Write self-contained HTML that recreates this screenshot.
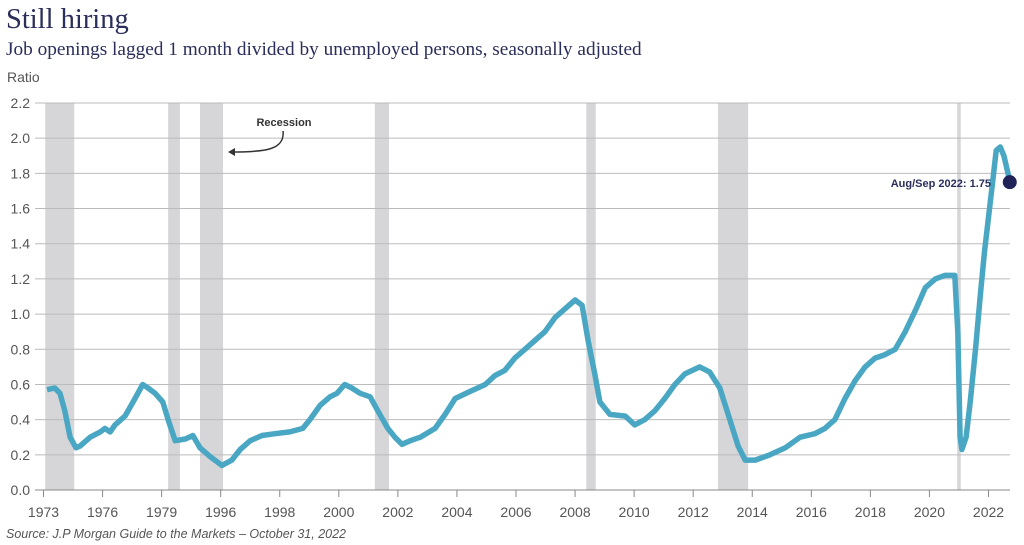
<!DOCTYPE html>
<html><head><meta charset="utf-8"><style>
body{margin:0;background:#fff;width:1024px;height:545px;overflow:hidden}
svg{display:block}
</style></head><body>
<svg width="1024" height="545" font-family="Liberation Sans, sans-serif">
<text x="6" y="28" font-family="Liberation Serif, serif" font-size="28.5" fill="#2b2d5a">Still hiring</text>
<text x="6" y="55" font-family="Liberation Serif, serif" font-size="19.3" fill="#2b2d5a">Job openings lagged 1 month divided by unemployed persons, seasonally adjusted</text>
<text x="7" y="82" font-size="14" fill="#555">Ratio</text>
<g id="rec"></g>
<g id="grid"></g>
<g id="xax"></g>
<g id="series"></g>
<text x="284" y="126" font-size="11" font-weight="bold" fill="#333" text-anchor="middle">Recession</text>
<path d="M283,131 C285,150 265,152 232,152" fill="none" stroke="#333" stroke-width="1.5"/>
<path d="M228,152 L235,148 L235,156 Z" fill="#333"/>
<text x="991" y="187" font-size="11" font-weight="bold" fill="#2b2d5a" text-anchor="end">Aug/Sep 2022: 1.75</text>
<text x="6" y="538" font-size="12.5" font-style="italic" fill="#555">Source: J.P Morgan Guide to the Markets – October 31, 2022</text>
</svg>
<script>
const tickLabels=["1973","1976","1979","1996","1998","2000","2002","2004","2006","2008","2010","2012","2014","2016","2018","2020","2022"];
const yTicks=[0,0.2,0.4,0.6,0.8,1.0,1.2,1.4,1.6,1.8,2.0,2.2];
const recStart=[0.03,2.11,2.65,5.61,9.19,11.42,15.47];
const recEnd=[0.52,2.31,3.04,5.85,9.35,11.93,15.53];
const seriesT=[0.06,0.19,0.28,0.36,0.45,0.55,0.62,0.79,0.96,1.04,1.13,1.21,1.38,1.55,1.68,1.77,1.89,2.02,2.11,2.23,2.40,2.53,2.65,2.82,3.02,3.19,3.33,3.50,3.70,3.92,4.17,4.39,4.51,4.68,4.85,4.97,5.10,5.22,5.36,5.53,5.66,5.83,5.95,6.07,6.21,6.38,6.63,6.80,6.97,7.22,7.48,7.64,7.81,7.98,8.15,8.32,8.49,8.66,8.83,9.00,9.12,9.22,9.34,9.42,9.59,9.85,10.01,10.18,10.35,10.52,10.69,10.86,11.11,11.28,11.45,11.62,11.76,11.88,12.05,12.30,12.56,12.81,13.06,13.23,13.40,13.57,13.74,13.91,14.08,14.25,14.42,14.59,14.76,14.93,15.10,15.26,15.43,15.48,15.52,15.55,15.62,15.69,15.78,15.86,15.93,16.00,16.07,16.13,16.20,16.26,16.33,16.36];
const seriesV=[0.57,0.58,0.55,0.45,0.30,0.24,0.25,0.30,0.33,0.35,0.33,0.37,0.42,0.52,0.60,0.58,0.55,0.50,0.40,0.28,0.29,0.31,0.24,0.19,0.14,0.17,0.23,0.28,0.31,0.32,0.33,0.35,0.40,0.48,0.53,0.55,0.60,0.58,0.55,0.53,0.45,0.35,0.30,0.26,0.28,0.30,0.35,0.43,0.52,0.56,0.60,0.65,0.68,0.75,0.80,0.85,0.90,0.98,1.03,1.08,1.05,0.85,0.65,0.50,0.43,0.42,0.37,0.40,0.45,0.52,0.60,0.66,0.70,0.67,0.58,0.40,0.25,0.17,0.17,0.20,0.24,0.30,0.32,0.35,0.40,0.52,0.62,0.70,0.75,0.77,0.80,0.90,1.02,1.15,1.20,1.22,1.22,0.90,0.30,0.23,0.30,0.50,0.80,1.10,1.35,1.55,1.75,1.93,1.95,1.90,1.80,1.75];
const lastValue=1.75;
const NS="http://www.w3.org/2000/svg";
const X0=43.5,X1=988.5,Y0=490,Y1=103;
function xs(t){return X0+t*(X1-X0)/16;}
function ys(v){return Y0-(v/2.2)*(Y0-Y1);}
function mk(tag,attrs,parent){const e=document.createElementNS(NS,tag);for(const k in attrs)e.setAttribute(k,attrs[k]);parent.appendChild(e);return e;}
const rec=document.getElementById('rec');
recStart.forEach((s,i)=>{const r=mk('rect',{x:xs(s),y:Y1,width:xs(recEnd[i])-xs(s),height:Y0-Y1,fill:'#d6d6d9'},rec);

});
const grid=document.getElementById('grid');
yTicks.forEach(v=>{const l=mk('line',{x1:35,x2:1010,y1:ys(v),y2:ys(v),stroke:v===0?'#888':'#bbb','stroke-width':1},grid);


const t=mk('text',{x:30,y:ys(v)+5,'font-size':14,fill:'#555','text-anchor':'end'},grid);t.textContent=v.toFixed(1);

});
const xax=document.getElementById('xax');
tickLabels.forEach((lab,i)=>{const x=xs(i);const l=mk('line',{x1:x,x2:x,y1:Y0,y2:Y0+7,stroke:'#888'},xax);


const t=mk('text',{x:x,y:517,'font-size':14,fill:'#555','text-anchor':'middle'},xax);t.textContent=lab;

});
const ser=document.getElementById('series');
const d=seriesT.map((t,i)=>(i?'L':'M')+xs(t).toFixed(1)+','+ys(seriesV[i]).toFixed(1)).join(' ');
const p=mk('path',{d:d,fill:'none',stroke:'#4aa7c4','stroke-width':5.5,'stroke-linejoin':'round'},ser);


const c=mk('circle',{cx:xs(seriesT[seriesT.length-1]),cy:ys(lastValue),r:7,fill:'#1f2357'},ser);


</script>
</body></html>
